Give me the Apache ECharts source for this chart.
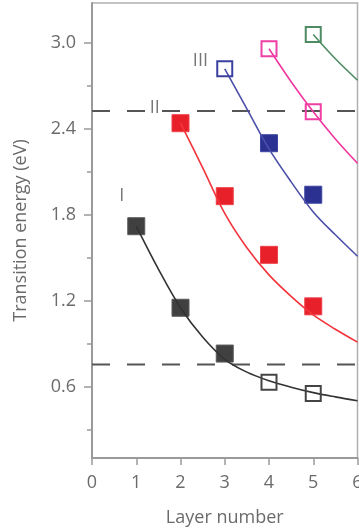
<!DOCTYPE html>
<html>
<head>
<meta charset="utf-8">
<script src="https://cdn.jsdelivr.net/npm/echarts@6/dist/echarts.min.js"></script>
<style>
  html, body { margin: 0; padding: 0; background: #fff; }
  #chart { width: 359px; height: 531px; }
</style>
</head>
<body>
<div id="chart"></div>
<script>
// Layer numbers on the x axis
const xTicks = [0, 1, 2, 3, 4, 5, 6];
// Labelled and unlabelled energy ticks (eV)
const yMajorTicks = [0.6, 1.2, 1.8, 2.4, 3.0];
const yMinorTicks = [0.3, 0.9, 1.5, 2.1, 2.7];

// Measured transitions: [layer number, energy in eV]
const branchIFilled = [[1, 1.72], [2, 1.15], [3, 0.83]];
const branchIOpen = [[4, 0.63], [5, 0.55]];
const branchIIFilled = [[2, 2.44], [3, 1.93], [4, 1.52], [5, 1.16]];
const branchIIIOpen = [[3, 2.82]];
const branchIIIFilled = [[4, 2.30], [5, 1.94]];
const branchIVOpen = [[4, 2.96], [5, 2.52]];
const branchVOpen = [[5, 3.06]];

// Fitted curves: sampled layer numbers and energies
const fitIX = [1, 1.5, 2, 2.5, 3, 3.5, 4, 4.5, 5, 5.5, 6];
const fitIY = [1.72, 1.42, 1.15, 0.945, 0.79, 0.70, 0.64, 0.595, 0.557, 0.527, 0.50];
const fitIIX = [2, 2.5, 3, 3.5, 4, 4.5, 5, 5.5, 6];
const fitIIY = [2.44, 2.13, 1.81, 1.57, 1.38, 1.23, 1.10, 1.00, 0.91];
const fitIIIX = [3, 3.5, 4, 4.5, 5, 5.5, 6];
const fitIIIY = [2.82, 2.54, 2.26, 2.03, 1.82, 1.66, 1.51];
const fitIVX = [4, 4.5, 5, 5.5, 6];
const fitIVY = [2.96, 2.73, 2.52, 2.33, 2.16];
const fitVX = [5, 5.5, 6];
const fitVY = [3.06, 2.89, 2.74];

// Horizontal reference levels (eV)
const levelLow = 0.753;
const levelHigh = 2.525;

// Branch names
const branchNames = ['I', 'II', 'III'];
const branchNamePos = [[0.67, 1.93], [1.42, 2.55], [2.45, 2.875]];

const FONT = '"Open Sans", "Noto Sans", sans-serif';
const TEXT = '#6b6b6b';
const AXIS = '#9a9a9a';

const zip = (xs, ys) => xs.map((x, i) => [x, ys[i]]);

function fitLine(xs, ys, color) {
  return {
    type: 'line', data: zip(xs, ys), smooth: 0.35, symbol: 'none',
    lineStyle: { color: color, width: 1.6 }, z: 3, silent: true
  };
}
function filled(data, color, border) {
  return {
    type: 'scatter', data: data, symbol: 'rect', symbolSize: 17,
    itemStyle: { color: color, borderColor: border, borderWidth: 1, opacity: 1 }, z: 2
  };
}
function open(data, color) {
  return {
    type: 'scatter', data: data, symbol: 'rect', symbolSize: 15,
    itemStyle: { color: 'rgba(0,0,0,0)', borderColor: color, borderWidth: 2, opacity: 1 }, z: 4
  };
}
function level(v) {
  return {
    type: 'line', data: [[0, v], [6, v]], symbol: 'none',
    lineStyle: { color: '#555', width: 2, type: [18, 17] }, z: 1, silent: true
  };
}

const chart = echarts.init(document.getElementById('chart'), null, { renderer: 'canvas' });
chart.setOption({
  animation: false,
  backgroundColor: '#fff',
  grid: {
    left: 92, right: 1.5, top: 3, bottom: 73,
    outerBoundsMode: 'none', containLabel: false,
    show: true, borderColor: '#b0b0b0', borderWidth: 1.5, backgroundColor: 'transparent'
  },
  xAxis: {
    type: 'value', min: xTicks[0], max: xTicks[xTicks.length - 1], interval: 1,
    name: 'Layer number', nameLocation: 'middle', nameGap: 51,
    nameTextStyle: { color: TEXT, fontSize: 18, fontFamily: FONT },
    axisLine: { show: true, lineStyle: { color: AXIS, width: 2 } },
    axisTick: { show: true, length: 7, lineStyle: { color: AXIS, width: 1.5 } },
    axisLabel: { color: TEXT, fontSize: 18, fontFamily: FONT, margin: 16 },
    splitLine: { show: false }
  },
  yAxis: [
    {
      type: 'value', min: 0.1, max: 3.28, position: 'left',
      name: 'Transition energy (eV)', nameLocation: 'middle', nameGap: 62, nameRotate: 90,
      nameTextStyle: { color: TEXT, fontSize: 18, fontFamily: FONT },
      axisLine: { show: true, lineStyle: { color: AXIS, width: 2 } },
      axisTick: { show: true, length: 8, customValues: yMajorTicks, lineStyle: { color: AXIS, width: 1.5 } },
      axisLabel: {
        color: TEXT, fontSize: 18, fontFamily: FONT, margin: 16,
        customValues: yMajorTicks, formatter: v => v.toFixed(1)
      },
      splitLine: { show: false }
    },
    {
      type: 'value', min: 0.1, max: 3.28, position: 'left',
      axisLine: { show: false },
      axisTick: { show: true, length: 5, customValues: yMinorTicks, lineStyle: { color: AXIS, width: 1.5 } },
      axisLabel: { show: false },
      splitLine: { show: false }
    }
  ],
  series: [
    level(levelLow),
    level(levelHigh),
    fitLine(fitIX, fitIY, '#333333'),
    fitLine(fitIIX, fitIIY, '#f2353c'),
    fitLine(fitIIIX, fitIIIY, '#4b50a8'),
    fitLine(fitIVX, fitIVY, '#f0369f'),
    fitLine(fitVX, fitVY, '#4f8c63'),
    filled(branchIFilled, '#404040', '#5a5a5a'),
    open(branchIOpen, '#444444'),
    filled(branchIIFilled, '#e8202a', '#ee4048'),
    open(branchIIIOpen, '#3a40a0'),
    filled(branchIIIFilled, '#2a3190', '#3e45a0'),
    open(branchIVOpen, '#ee3fa5'),
    open(branchVOpen, '#4e8b63'),
    {
      type: 'scatter', symbolSize: 0, z: 5, silent: true,
      data: branchNamePos.map((p, i) => ({ value: p, name: branchNames[i] })),
      label: {
        show: true, position: 'inside', formatter: p => p.name,
        color: '#555', fontSize: 18, fontFamily: FONT,
        backgroundColor: '#fff', padding: [0, 1]
      }
    }
  ]
});
</script>
</body>
</html>
